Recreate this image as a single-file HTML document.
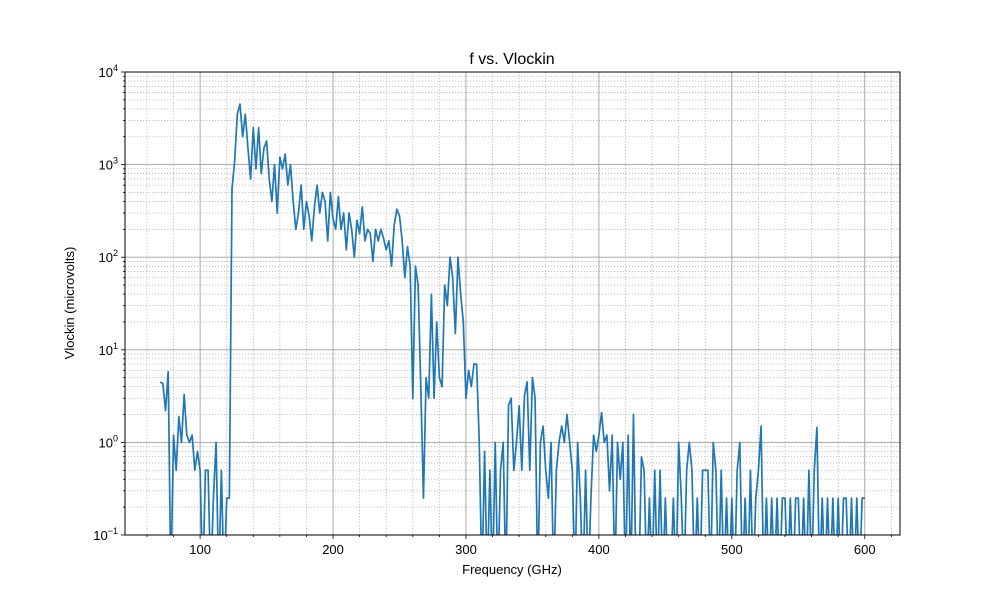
<!DOCTYPE html>
<html><head><meta charset="utf-8"><style>
html,body{margin:0;padding:0;background:#fff;}
svg text{font-family:"Liberation Sans","DejaVu Sans",sans-serif;fill:#000;}
</style></head><body>
<svg id="chart" width="1000" height="600" xmlns="http://www.w3.org/2000/svg">
<rect width="1000" height="600" fill="#fff"/>
<defs><clipPath id="clip"><rect x="125" y="72" width="775" height="463"/></clipPath></defs>
<g id="grid"></g>
<g id="series" clip-path="url(#clip)"></g>
<rect x="125" y="72" width="775" height="463" fill="none" stroke="#000" stroke-width="1"/>
<g id="ticks"></g>
<text x="512" y="64" font-size="16" text-anchor="middle">f vs. Vlockin</text>
<text x="512" y="574" font-size="13" text-anchor="middle">Frequency (GHz)</text>
<text transform="translate(74,303) rotate(-90)" font-size="13" text-anchor="middle">Vlockin (microvolts)</text>
</svg>
<script>
const L = 0.001;
const freqStart = 70;
const freqStep = 2;
const values = [
4.5,4.3,2.2,5.8,L,1.2,0.5,1.9,1.0,3.3,1.2,1.0,1.2,0.5,0.8,0.5,L,0.5,0.5,L,0.25,1.0,L,0.5,L,0.25,0.25,
550,1100,3500,4500,2000,3500,1500,700,2500,900,2500,800,1500,1800,700,400,1000,300,1200,900,1300,600,1000,
400,200,300,600,200,400,280,150,350,600,300,500,400,150,500,260,200,450,200,300,120,300,200,100,250,180,350,
150,200,180,90,200,150,200,160,120,150,80,220,330,280,150,60,130,80,3,80,50,4,0.25,5,3,40,3,20,5,4,50,30,100,
60,15,100,40,20,3,6,4,7,7,1,L,0.8,L,0.5,L,
1.0,L,0.5,1.0,L,2.5,3.0,0.5,1.0,2.5,0.5,3.2,4.5,0.5,5.0,3,L,1,1.5,0.5,0.25,1.0,L,0.5,1.0,1.5,1.0,2.0,1.0,0.5,
L,1.0,0.25,L,0.5,L,0.25,1.2,0.8,1.2,2.1,1.0,1.2,0.3,1.2,L,1.0,0.4,1.0,L,1.2,L,2.0,L,
L,0.7,0.5,L,0.25,L,0.5,L,0.5,L,0.25,L,L,0.25,L,1.0,0.25,L,0.5,1.0,0.5,L,0.25,L,0.5,0.5,0.5,L,1.0,0.5,L,0.5,L,
0.25,L,0.25,L,0.5,1.0,L,0.25,L,0.5,L,0.25,0.5,1.5,L,0.25,L,0.25,L,0.25,L,0.25,0.25,L,0.25,L,0.25,0.25,L,0.25,
L,0.5,L,0.5,1.45,L,0.25,L,0.25,L,0.25,L,0.25,L,0.25,0.25,L,0.25,L,0.25,L,0.25,0.25
];
const xTicks = [100,200,300,400,500,600];
const yTicks = [-1,0,1,2,3,4];

const X0=125,X1=900,Y0=535,Y1=72;
const xmin=43.5,xmax=626.5;
function xs(f){return X0+(f-xmin)/(xmax-xmin)*(X1-X0);}
function ys(v){const lv=Math.log10(Math.max(v,0.03));return Y0-(lv+1)/5*(Y0-Y1);}
const NS="http://www.w3.org/2000/svg";
function mk(t,a,p){const e=document.createElementNS(NS,t);for(const k in a)e.setAttribute(k,a[k]);p.appendChild(e);return e;}
const grid=document.getElementById('grid'),ticks=document.getElementById('ticks');
for(let f=60;f<=620;f+=20){if(f%100===0)continue;const x=xs(f);
const g=mk('line',{x1:x,x2:x,y1:Y1,y2:Y0,stroke:'#b4b4b4','stroke-width':0.8,'stroke-dasharray':'1.2,1.8'},grid);


const t=mk('line',{x1:x,x2:x,y1:Y0,y2:Y0+2,stroke:'#000','stroke-width':0.8},ticks);

}
for(let d=-1;d<4;d++)for(let m=2;m<=9;m++){const y=ys(m*Math.pow(10,d));
const g=mk('line',{x1:X0,x2:X1,y1:y,y2:y,stroke:'#b4b4b4','stroke-width':0.8,'stroke-dasharray':'1.2,1.8'},grid);


const t=mk('line',{x1:X0-2,x2:X0,y1:y,y2:y,stroke:'#000','stroke-width':0.8},ticks);

}
xTicks.forEach(f=>{const x=xs(f);
const g=mk('line',{x1:x,x2:x,y1:Y1,y2:Y0,stroke:'#a0a0a0','stroke-width':0.9},grid);


const t=mk('line',{x1:x,x2:x,y1:Y0,y2:Y0+4,stroke:'#000','stroke-width':0.8},ticks);


const l=mk('text',{x:x,y:Y0+19,'font-size':13,'text-anchor':'middle'},ticks);l.textContent=f;

});
yTicks.forEach(p=>{const y=ys(Math.pow(10,p));
const g=mk('line',{x1:X0,x2:X1,y1:y,y2:y,stroke:'#a0a0a0','stroke-width':0.9},grid);


const t=mk('line',{x1:X0-4,x2:X0,y1:y,y2:y,stroke:'#000','stroke-width':0.8},ticks);


const l=mk('text',{x:X0-7,y:y+5,'font-size':13,'text-anchor':'end'},ticks);
l.innerHTML='10<tspan dy="-6" font-size="9">'+(p<0?'\u2212'+(-p):p)+'</tspan>';

});
let d='';values.forEach((v,i)=>{const f=freqStart+i*freqStep;d+=(i?'L':'M')+xs(f).toFixed(2)+','+ys(v).toFixed(2);});
const path=mk('path',{d:d,fill:'none',stroke:'#1f77b4','stroke-width':1.7,'stroke-linejoin':'round'},document.getElementById('series'));


</script>
</body></html>
